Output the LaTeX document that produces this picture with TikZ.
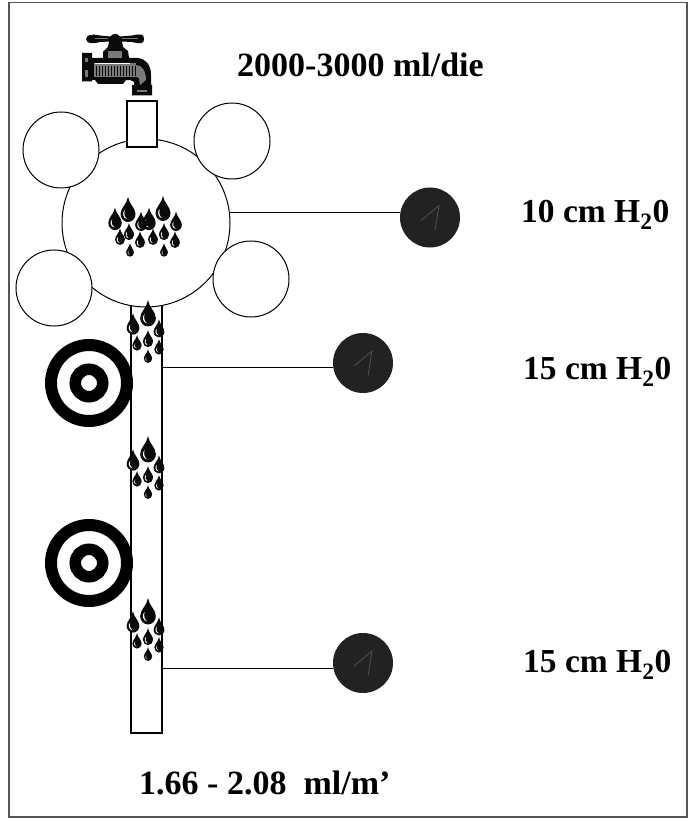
\documentclass[tikz,border=0pt]{standalone}
\usepackage{fontspec}
\setmainfont{Liberation Serif}
\usepackage{tikz}
\usetikzlibrary{calc}
\definecolor{Frame}{HTML}{555555}
\definecolor{Ink}{HTML}{0A0A0A}
\definecolor{Dial}{HTML}{222222}
\definecolor{Needle}{HTML}{505050}
\definecolor{Brass}{HTML}{7A7A7A}

\tikzset{
  drop/.pic={
    \fill[Ink] (0,-16) .. controls (1,-9) and (7.5,-5) .. (7.5,1)
      .. controls (7.5,5.5) and (4,9) .. (0,9)
      .. controls (-4,9) and (-7.5,5.5) .. (-7.5,1)
      .. controls (-7.5,-5) and (-1,-9) .. (0,-16) -- cycle;
    \fill[white] (-3.2,-3) .. controls (-6.4,0) and (-5,5.5) .. (-0.5,6.2)
      .. controls (-3.4,4.6) and (-4.4,1) .. (-3.2,-3) -- cycle;
  },
  dial/.pic={
    \draw[Needle,line width=0.8pt] (-9,3) -- (9,-12) -- (5,13);
  },
  lump/.style={circle,draw=black,fill=white,line width=1pt,minimum size=76pt,inner sep=0pt},
  cell/.style={circle,draw=black,fill=white,line width=1pt,minimum size=168pt,inner sep=0pt},
  tube/.style={rectangle,draw=black,fill=white,line width=1.2pt,inner sep=0pt},
  gauge/.style={circle,fill=Dial,minimum size=60pt,inner sep=0pt},
  ringout/.style={circle,draw=black,fill=white,line width=12pt,minimum size=76pt,inner sep=0pt},
  ringin/.style={circle,draw=black,fill=white,line width=11.5pt,minimum size=27.5pt,inner sep=0pt},
  link/.style={draw=black,line width=1pt},
  value/.style={font=\fontsize{34}{40}\selectfont\bfseries,inner sep=0pt},
  pressure/.style={font=\fontsize{33.5}{40}\selectfont\bfseries,inner sep=0pt}
}
\newcommand{\dropset}[2]{%
  \foreach \dx/\dy/\ds in {0/0/1.05, -15/10/0.85, 11/14/0.72, -11/28/0.62, 0/24/0.68, 11/32/0.62, 0/41/0.55}
    \pic[scale=\ds] at (#1+\dx,#2+\dy) {drop};
}

\begin{document}
\begin{tikzpicture}[x=1pt,y=-1pt]
\useasboundingbox (0,0) rectangle (697,818);
\fill[white] (0,0) rectangle (697,818);
\node[rectangle,draw=Frame,line width=1.6pt,minimum width=678pt,minimum height=814.5pt,inner sep=0pt] (frame) at (348,409.75) {};

% tap
\fill[Ink] (86,39) .. controls (87,34) and (92,34) .. (100,35.5) -- (110,36.5)
  .. controls (114,33) and (117,33) .. (120,36.5) -- (132,35.5)
  .. controls (141,33.5) and (144,34) .. (144,39)
  .. controls (144,44) and (141,44) .. (132,42) -- (122,41.5)
  -- (123,47) -- (128,51) -- (129,58) -- (138,58)
  .. controls (146,59) and (151,65) .. (151,75) -- (151,85) -- (152,85) -- (152,95.5)
  -- (132,95.5) -- (132,85) -- (134,85) -- (134,82) .. controls (132,80) and (130,80) .. (126,80)
  -- (123,84) -- (98,84) -- (95,80) -- (92,80) -- (92,81.5) -- (82,81.5) -- (82,53) -- (92,53) -- (92,58)
  -- (103,58) -- (103,52) -- (108,47) -- (109,41.5) -- (100,42)
  .. controls (92,44) and (87,44) .. (86,39) -- cycle;
\fill[Brass] (94,63) rectangle (136,77);
\fill[Brass] (136,65) .. controls (142,65) and (146,71) .. (146,80) -- (140,85) -- (139,78) -- (136,77) -- cycle;
\fill[Brass] (108,51) rectangle (122,58);
\fill[Brass] (85,58) rectangle (88,62);
\fill[Brass] (85,70) rectangle (88,77);
\fill[Brass] (137,90) rectangle (147,92);
\foreach \gx in {96,99,...,135}
  \draw[Ink,line width=0.8pt] (\gx,66) -- (\gx,76);
\draw[white,line width=1pt] (95,63.5) -- (130,63.5);
\draw[Brass,line width=1pt] (95,39) -- (108,39);
\draw[Brass,line width=1pt] (122,39) -- (138,39);

% cell and its lumps
\node[tube,minimum width=31pt,minimum height=428pt] (tubule) at (146.5,519) {};
\node[cell] (soma) at (146,223) {};
\node[lump] (lumpA) at (61,150) {};
\node[lump] (lumpB) at (232,141) {};
\node[lump] (lumpC) at (54,288) {};
\node[lump] (lumpD) at (251,279) {};
\node[tube,minimum width=30pt,minimum height=46pt] (inlet) at (142,124) {};

% drops
\foreach \dx/\dy/\ds in {128/213/1, 163/212/1, 115/222/0.9, 149/222/0.9, 141/224/0.78, 176/224/0.78,
    129/234/0.68, 120/239/0.66, 140/242/0.66, 153/239/0.66, 164/234/0.68, 175/242/0.66, 130/252/0.52, 164/252/0.52}
  \pic[scale=\ds] at (\dx,\dy) {drop};
\dropset{148}{317}
\dropset{148}{453}
\dropset{148}{615}

% rings on the tube
\foreach \ringname/\ringy in {ringA/383,ringB/563} {
  \node[ringout] (\ringname) at (89,\ringy) {};
  \node[ringin] (\ringname in) at (89,\ringy) {};
}

% gauges
\node[gauge] (gaugeA) at (430,217.5) {};
\node[gauge] (gaugeB) at (363,363) {};
\node[gauge] (gaugeC) at (363,663) {};
\pic at (gaugeA) {dial};
\pic at (gaugeB) {dial};
\pic at (gaugeC) {dial};
\coordinate (tapB) at (162,367);
\coordinate (tapC) at (162,668);
\draw[link] (soma.7) -- (soma.7 -| gaugeA.west);
\draw[link] (tapB) -- (tapB -| gaugeB.west);
\draw[link] (tapC) -- (tapC -| gaugeC.west);

% labels
\node[value,anchor=west] (intake) at (237,65) {2000-3000 ml/die};
\node[pressure,anchor=west] (labelA) at (521,215) {10 cm H\textsubscript{2}0};
\node[pressure,anchor=west] (labelB) at (523,372) {15 cm H\textsubscript{2}0};
\node[pressure,anchor=west] (labelC) at (523,665) {15 cm H\textsubscript{2}0};
\node[value,anchor=west] (output) at (139,783) {1.66 - 2.08\ \ ml/m’};
\end{tikzpicture}
\end{document}
